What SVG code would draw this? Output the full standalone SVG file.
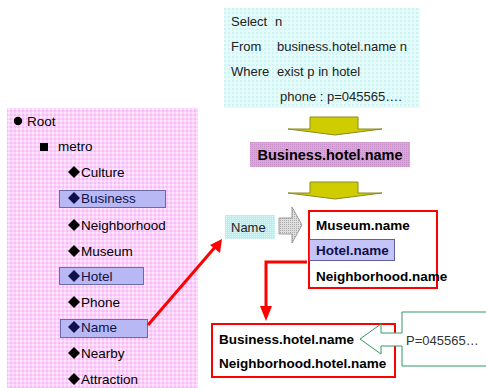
<svg xmlns="http://www.w3.org/2000/svg" width="486" height="388" viewBox="0 0 486 388">
<defs>
<pattern id="pinkP" width="4" height="4" patternUnits="userSpaceOnUse">
<rect width="4" height="4" fill="#fcd2fc"/>
<rect x="0" y="0" width="2" height="2" fill="#ffe8ff"/>
<rect x="2" y="2" width="2" height="2" fill="#f4bef4"/>
</pattern>
<pattern id="cyanP" width="4" height="4" patternUnits="userSpaceOnUse">
<rect width="4" height="4" fill="#e4fbfb"/>
<rect x="0" y="0" width="2" height="2" fill="#cdf3f3"/>
</pattern>
<pattern id="cyan2P" width="2" height="2" patternUnits="userSpaceOnUse">
<rect width="2" height="2" fill="#b0f2f2"/>
<rect x="0" y="0" width="1" height="1" fill="#d6fafa"/>
</pattern>
<pattern id="mauveP" width="2" height="2" patternUnits="userSpaceOnUse">
<rect width="2" height="2" fill="#d8a8d8"/>
<rect x="0" y="0" width="1" height="1" fill="#c890c8"/>
</pattern>
<pattern id="greyP" width="2" height="2" patternUnits="userSpaceOnUse">
<rect width="2" height="2" fill="#e0e0e0"/>
<rect x="0" y="0" width="1" height="1" fill="#a8a8a8"/>
</pattern>
<marker id="redHead" viewBox="0 0 10 10" refX="9" refY="5" markerWidth="4" markerHeight="4" orient="auto" markerUnits="strokeWidth">
<path d="M0,0 L10,5 L0,10 z" fill="#ff0000"/>
</marker>
<style>
.t{font-family:"Liberation Sans",Arial,sans-serif;font-size:13.5px;fill:#000}
.q{font-family:"Liberation Sans",Arial,sans-serif;font-size:13px;fill:#222}
.b{font-family:"Liberation Sans",Arial,sans-serif;font-size:13.5px;font-weight:bold;fill:#000}
.hl{fill:#b8b8f4;stroke:#6a6aa8;stroke-width:1}
.hlt{fill:#10104a}
.dia{fill:#000}
.redbox{fill:#fff;stroke:#ff0000;stroke-width:2}
.yarrow{fill:#cfcc00;stroke:#8a8a20;stroke-width:1}
.redline{fill:none;stroke:#ff0000;stroke-width:3}
</style>
</defs>
<rect width="486" height="388" fill="#fff"/>

<!-- left tree panel -->
<g id="tree">
<rect x="7" y="108" width="191" height="290" fill="url(#pinkP)"/>
<g id="root"><circle cx="18" cy="121" r="4.2" class="dia"/><text x="27" y="126" class="t">Root</text></g>
<g id="metro"><rect x="40" y="143" width="8" height="8" class="dia"/><text x="58" y="151" class="t">metro</text></g>
<g id="culture"><polygon points="74,166 80,172 74,178 68,172" class="dia"/><text x="81" y="177" class="t">Culture</text></g>
<g id="business"><rect x="59.5" y="190.5" width="106" height="17" class="hl"/><polygon points="74,192 80,198 74,204 68,198" fill="#10104a"/><text x="81" y="203" class="t hlt">Business</text></g>
<g id="neighborhood"><polygon points="74,219 80,225 74,231 68,225" class="dia"/><text x="81" y="230" class="t">Neighborhood</text></g>
<g id="museum"><polygon points="74,245 80,251 74,257 68,251" class="dia"/><text x="81" y="256" class="t">Museum</text></g>
<g id="hotel"><rect x="59.5" y="267.5" width="84" height="17" class="hl"/><polygon points="74,270 80,276 74,282 68,276" fill="#10104a"/><text x="81" y="281" class="t hlt">Hotel</text></g>
<g id="phone"><polygon points="74,296 80,302 74,308 68,302" class="dia"/><text x="81" y="307" class="t">Phone</text></g>
<g id="name"><rect x="60.5" y="319.5" width="87" height="18" class="hl"/><polygon points="74,321 80,327 74,333 68,327" fill="#10104a"/><text x="81" y="332" class="t hlt">Name</text></g>
<g id="nearby"><polygon points="74,347 80,353 74,359 68,353" class="dia"/><text x="81" y="358" class="t">Nearby</text></g>
<g id="attraction"><polygon points="74,373 80,379 74,385 68,379" class="dia"/><text x="81" y="384" class="t">Attraction</text></g>
</g>

<!-- query panel -->
<g id="query">
<rect x="224" y="8" width="196" height="100" fill="url(#cyanP)"/>
<text class="q" y="26"><tspan x="231">Select</tspan><tspan x="275">n</tspan></text>
<text class="q" y="51"><tspan x="231">From</tspan><tspan x="277">business.hotel.name n</tspan></text>
<text class="q" y="76"><tspan x="231">Where</tspan><tspan x="277">exist p in hotel</tspan></text>
<text class="q" y="101"><tspan x="280">phone : p=045565….</tspan></text>
</g>

<g id="arrow1"><polygon points="310,117 358,117 358,129 382,129 335,135 288,129 310,129" class="yarrow"/></g>

<g id="bhn">
<rect x="250" y="142" width="160" height="25" fill="url(#mauveP)"/>
<text x="330" y="160" text-anchor="middle" class="b" style="font-size:14.5px">Business.hotel.name</text>
</g>

<g id="arrow2"><polygon points="310,182 358,182 358,193 382,193 335,199 288,193 310,193" class="yarrow"/></g>

<g id="namebox">
<rect x="225" y="215" width="50" height="24" fill="url(#cyan2P)"/>
<text x="231" y="232" class="q">Name</text>
</g>

<g id="greyarrow"><polygon points="279,218 292,218 292,207 302,225 292,243 292,234 279,234" fill="url(#greyP)" stroke="#888" stroke-width="0.8"/></g>

<g id="result1">
<rect x="309" y="211" width="128" height="77" class="redbox"/>
<text x="316" y="230" class="b">Museum.name</text>
<rect x="309.5" y="239.5" width="85" height="21" fill="#c4c4f8" stroke="#6060a0"/>
<text x="316" y="255" class="b" fill="#10104a" style="fill:#10104a">Hotel.name</text>
<text x="316" y="281" class="b">Neighborhood.name</text>
</g>

<g id="result2">
<rect x="212" y="324" width="183" height="53" class="redbox"/>
<text x="219" y="344" class="b">Business.hotel.name</text>
<text x="219" y="368" class="b">Neighborhood.hotel.name</text>
</g>

<g id="callout">
<polygon points="487,312 402,312 402,333 381,333 381,324 360,339 381,354 381,346 402,346 402,366 487,366" fill="#fff" stroke="#339966" stroke-width="1"/>
<text x="406" y="345" class="q" style="fill:#333">P=045565…</text>
</g>

<g id="connectors">
<line x1="148" y1="325" x2="216" y2="246" class="redline"/>
<polygon points="222,239 220,253 210,245" fill="#ff0000"/>
<polyline points="307,262 266,262 266,308" class="redline"/>
<polygon points="260,306 272,306 266,321" fill="#ff0000"/>
</g>
</svg>
